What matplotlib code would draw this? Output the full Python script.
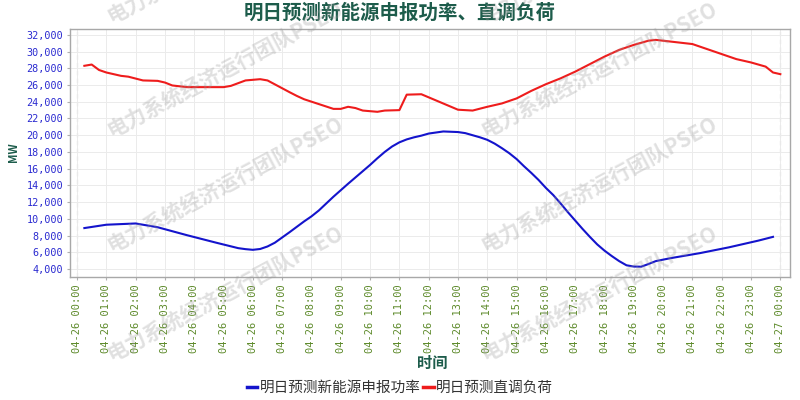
import matplotlib
matplotlib.use("Agg")
import matplotlib.pyplot as plt
import matplotlib.dates as mdates
from matplotlib.ticker import FuncFormatter, MultipleLocator
import pandas as pd

plt.rcParams["font.family"] = ["Noto Sans CJK SC", "DejaVu Sans"]

DAY = pd.Timestamp("2024-04-26")

TITLE = "明日预测新能源申报功率、直调负荷"
SERIES_NEW = "明日预测新能源申报功率"
SERIES_LOAD = "明日预测直调负荷"
WATERMARK = "电力系统经济运行团队PSEO"

# hours after 04-26 00:00, values in MW
new_hours = [0.25, 1.0, 2.0, 2.75, 3.75, 4.75, 5.5, 5.75, 6.0, 6.25, 6.5, 6.75,
             7.25, 7.5, 7.75, 8.0, 8.25, 8.75, 9.25, 9.75, 10.0, 10.25, 10.5, 10.75,
             11.0, 11.25, 11.5, 11.75, 12.0, 12.5, 13.0, 13.25, 13.75, 14.0, 14.25,
             14.5, 14.75, 15.0, 15.25, 15.5, 15.75, 16.0, 16.25, 16.5, 16.75, 17.0,
             17.25, 17.5, 17.75, 18.0, 18.25, 18.5, 18.75, 19.0, 19.25, 19.5, 19.75,
             20.25, 20.75, 21.25, 21.75, 22.25, 22.75, 23.25, 23.75]
new_mw = [8900, 9300, 9450, 9000, 8050, 7150, 6500, 6380, 6300, 6400, 6700, 7150,
          8400, 9050, 9700, 10300, 11000, 12650, 14200, 15700, 16450, 17250, 18000, 18650,
          19150, 19500, 19750, 19950, 20200, 20450, 20380, 20250, 19750, 19450, 19000,
          18450, 17850, 17150, 16300, 15500, 14650, 13700, 12850, 11850, 10800, 9800,
          8800, 7850, 6950, 6200, 5550, 4950, 4450, 4300, 4280, 4600, 4950,
          5300, 5600, 5900, 6250, 6600, 7000, 7400, 7850]

load_hours = [0.25, 0.5, 0.75, 1.0, 1.5, 1.75, 2.25, 2.75, 3.0, 3.25, 3.75, 5.0,
              5.25, 5.75, 6.25, 6.5, 7.25, 7.5, 7.75, 8.75, 9.0, 9.25, 9.5, 9.75,
              10.25, 10.5, 11.0, 11.25, 11.75, 13.0, 13.5, 14.0, 14.5, 15.0, 15.5,
              16.0, 16.5, 17.0, 17.5, 18.0, 18.5, 19.0, 19.5, 19.75, 20.0, 20.5,
              21.0, 22.0, 22.5, 23.0, 23.5, 23.75, 24.0]
load_mw = [28300, 28450, 27800, 27500, 27100, 27000, 26550, 26500, 26300, 25950, 25750, 25750,
           25900, 26550, 26700, 26550, 25150, 24700, 24300, 23150, 23150, 23400, 23250, 22950,
           22800, 22950, 23000, 24850, 24900, 23050, 22950, 23400, 23800, 24400, 25300,
           26100, 26800, 27600, 28500, 29400, 30200, 30800, 31300, 31400, 31300, 31100,
           30900, 29700, 29100, 28700, 28200, 27500, 27300]

# watermark anchor points (pixels from top-left)
wm_x = [108, 482]
wm_y = [17, 131, 246, 355]


def to_time(hours):
    return DAY + pd.to_timedelta(hours, unit="h")


fig = plt.figure(figsize=(8, 4), dpi=100)
ax = fig.add_axes([0.0875, 0.3075, 0.9, 0.62])

ax.plot(to_time(new_hours), new_mw, color="#1414cc", lw=1.5, label=SERIES_NEW, zorder=3)
ax.plot(to_time(load_hours), load_mw, color="#ee1c1c", lw=1.5, label=SERIES_LOAD, zorder=3)

ax.set_xlim(to_time(-0.24), to_time(24.33))
ax.set_ylim(3050, 32700)

ax.xaxis.set_major_locator(mdates.HourLocator(interval=1))
ax.xaxis.set_major_formatter(mdates.DateFormatter("%m-%d %H:%M"))
ax.yaxis.set_major_locator(MultipleLocator(2000))
ax.yaxis.set_major_formatter(FuncFormatter(lambda v, p: f"{int(v):,}"))

ax.grid(True, color="#ebebeb", lw=0.7)
for h in (0, 24):
    ax.axvline(to_time(h), color="#b4b4b4", lw=0.8, ls=(0, (4, 3)), zorder=1)

for lab in ax.get_xticklabels():
    lab.set_rotation(90)
    lab.set_family("DejaVu Sans Mono")
    lab.set_fontsize(7.5)
    lab.set_color("#5d8a2a")
for lab in ax.get_yticklabels():
    lab.set_family("DejaVu Sans Mono")
    lab.set_fontsize(7.3)
    lab.set_color("#2a2ad0")
ax.tick_params(axis="both", length=2, color="#b0b0b0", pad=3)

for s in ax.spines.values():
    s.set_color("#a8a8a8")
    s.set_linewidth(1.0)

fig.text(0.5, 0.968, TITLE, ha="center", va="center", fontsize=14,
         fontweight="bold", color="#1d5c4b")
fig.text(0.54, 0.0925, "时间", ha="center", va="center", fontsize=11,
         fontweight="bold", color="#1d5c4b")
fig.text(0.017, 0.62, "MW", ha="center", va="center", rotation=90, fontsize=8,
         fontweight="bold", color="#1d5c4b")

leg = fig.legend(loc="center", bbox_to_anchor=(0.5, 0.03), ncol=2, frameon=False,
                 fontsize=10.5, handlelength=0.7, handletextpad=0.15,
                 columnspacing=0.2)
for line in leg.get_lines():
    line.set_linewidth(2.5)
for t in leg.get_texts():
    t.set_color("#333333")

for x in wm_x:
    for y in wm_y:
        fig.text(x / 800, 1 - y / 400, WATERMARK, rotation=28, rotation_mode="anchor",
                 ha="left", va="center", fontsize=15, fontweight="bold",
                 color="#9a9a9a", alpha=0.3, zorder=10)

fig.savefig("out.png", dpi=100)
